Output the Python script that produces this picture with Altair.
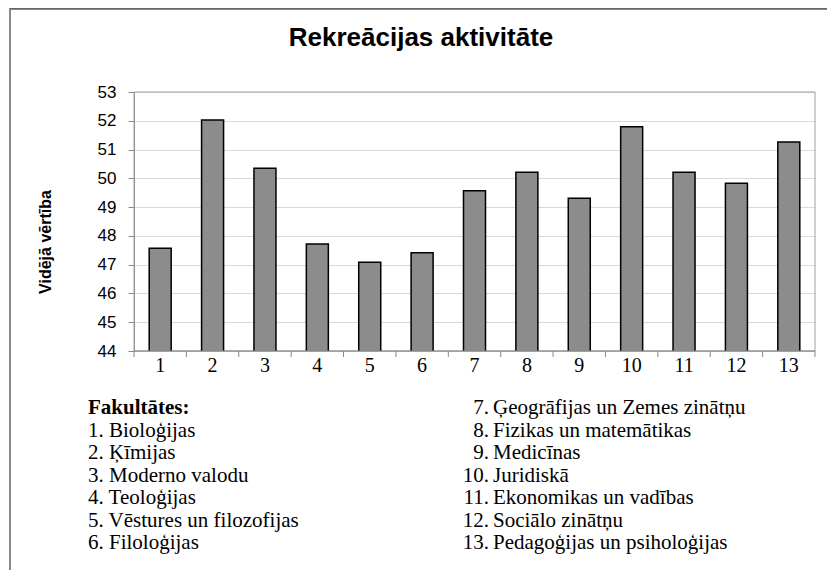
import altair as alt
import pandas as pd

# ---- data ----
categories = [str(i) for i in range(1, 14)]
values = [47.57, 52.03, 50.35, 47.72, 47.08, 47.41, 49.57, 50.21, 49.31, 51.79, 50.21, 49.83, 51.26]
y_ticks = [44, 45, 46, 47, 48, 49, 50, 51, 52, 53]
title_text = "Rekreācijas aktivitāte"
y_title = "Vidējā vērtība"
legend_head = "Fakultātes:"
legend_left = ["1. Bioloģijas", "2. Ķīmijas", "3. Moderno valodu", "4. Teoloģijas",
               "5. Vēstures un filozofijas", "6. Filoloģijas"]
legend_right_num = ["7.", "8.", "9.", "10.", "11.", "12.", "13."]
legend_right_name = ["Ģeogrāfijas un Zemes zinātņu", "Fizikas un matemātikas", "Medicīnas",
                     "Juridiskā", "Ekonomikas un vadības", "Sociālo zinātņu",
                     "Pedagoģijas un psiholoģijas"]

W, H = 681, 259
LINE = 22.5
LEG_Y0 = 316
SERIF = "Liberation Serif"
SANS = "Liberation Sans"
P_IN, P_OUT = 0.58, 0.29
STEP = W / (len(categories) - P_IN + 2 * P_OUT)

df = pd.DataFrame({"cat": categories, "val": values})

xscale = alt.Scale(domain=categories, paddingInner=P_IN, paddingOuter=P_OUT)
yscale = alt.Scale(domain=[44, 53], nice=False, zero=False)

one = alt.Data(values=[{}])

frame = alt.Chart(one).mark_rect(
    fill=None, stroke="#8a8a8a", strokeWidth=2
).encode(
    x=alt.value(-124), x2=alt.value(W + 60), y=alt.value(-83), y2=alt.value(H + 300)
)
frame_top = alt.Chart(one).mark_rule(
    stroke="#404040", strokeWidth=1
).encode(
    x=alt.value(-124), x2=alt.value(W + 60), y=alt.value(-84)
)

plot_border = alt.Chart(one).mark_rect(
    fill=None, stroke="#a0a0a0", strokeWidth=1
).encode(
    x=alt.value(0), x2=alt.value(W), y=alt.value(0), y2=alt.value(H)
)

bars = alt.Chart(df).mark_bar(
    color="#8c8c8c", stroke="#000000", strokeWidth=1.5, clip=True
).encode(
    x=alt.X("cat:N", scale=xscale, sort=categories, axis=None),
    y=alt.Y("val:Q", scale=yscale,
            axis=alt.Axis(title=None, values=y_ticks, grid=True, gridColor="#d9d9d9",
                          domainColor="#888888", tickColor="#888888", tickSize=6,
                          labelFont=SANS, labelFontSize=17, labelColor="#000000",
                          labelPadding=12)),
)

x_domain = alt.Chart(one).mark_rule(color="#888888", strokeWidth=1).encode(
    x=alt.value(0), x2=alt.value(W), y=alt.value(H),
)
xticks = alt.Chart(df).mark_rule(color="#888888", strokeWidth=1, xOffset=-STEP * P_IN / 2).encode(
    x=alt.X("cat:N", scale=xscale, sort=categories, bandPosition=0, axis=None),
    y=alt.value(H), y2=alt.value(H + 6),
)
xtick_end = alt.Chart(one).mark_rule(color="#888888", strokeWidth=1).encode(
    x=alt.value(W), y=alt.value(H), y2=alt.value(H + 6),
)
xlabels = alt.Chart(df).mark_text(
    font=SERIF, fontSize=20, color="#000000", align="center", baseline="middle"
).encode(
    x=alt.X("cat:N", scale=xscale, sort=categories, axis=None),
    y=alt.value(H + 15),
    text="cat:N",
)


def txt(s, x, y, size, font=SERIF, weight="normal", align="left", angle=0):
    return alt.Chart(pd.DataFrame({"t": [s]})).mark_text(
        font=font, fontSize=size, fontWeight=weight, color="#000000",
        align=align, baseline="middle", angle=angle
    ).encode(text="t:N", x=alt.value(x), y=alt.value(y))


layers = [frame, frame_top, plot_border, bars, x_domain, xticks, xtick_end, xlabels,
          txt(title_text, 287, -54, 26, font=SANS, weight="bold", align="center"),
          txt(y_title, -88, 150, 16, font=SANS, weight="bold", align="center", angle=270),
          txt(legend_head, -46, LEG_Y0, 21, weight="bold")]
for i, s in enumerate(legend_left):
    layers.append(txt(s, -46, LEG_Y0 + (i + 1) * LINE, 21))
for i, (n, s) in enumerate(zip(legend_right_num, legend_right_name)):
    layers.append(txt(n, 355, LEG_Y0 + i * LINE, 21, align="right"))
    layers.append(txt(s, 359, LEG_Y0 + i * LINE, 21))

chart = alt.layer(*layers).properties(
    width=W, height=H,
    autosize=alt.AutoSizeParams(type="none"),
    padding={"left": 126, "top": 84, "right": 12, "bottom": 219},
).configure_view(stroke=None)

chart.save("out.html", embed_options={"renderer": "svg", "actions": False})
